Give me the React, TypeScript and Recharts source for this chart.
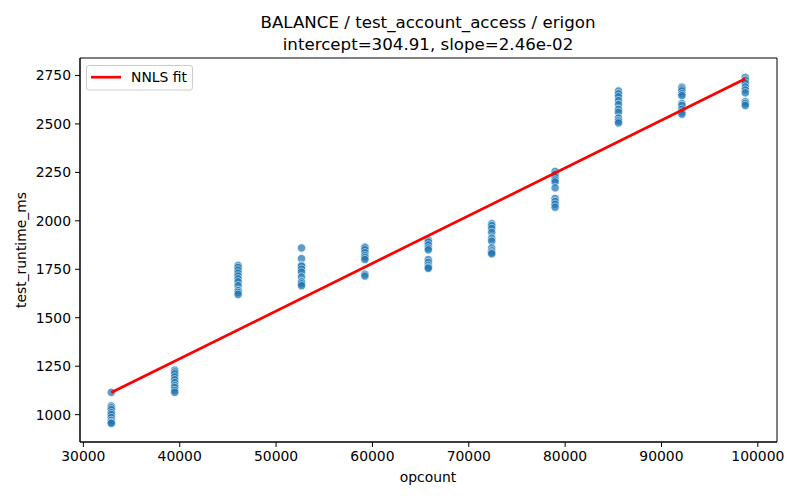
import React from "react";
import {
  ScatterChart,
  Scatter,
  XAxis,
  YAxis,
  ReferenceArea,
} from "recharts";

document.body.style.margin = "0";

// opcount values of each run group
const opcounts = [32900, 39480, 46060, 52640, 59220, 65800, 72380, 78960, 85540, 92120, 98700];

// test_runtime_ms per group
const ms32900 = [1115, 1045, 1035, 1025, 1010, 1000, 985, 970, 960, 955];
const ms39480 = [1230, 1220, 1210, 1195, 1180, 1165, 1150, 1140, 1125, 1115];
const ms46060 = [1770, 1760, 1745, 1730, 1715, 1700, 1685, 1665, 1640, 1630, 1620];
const ms52640 = [1860, 1805, 1770, 1765, 1750, 1735, 1710, 1685, 1675, 1665];
const ms59220 = [1865, 1860, 1850, 1835, 1820, 1810, 1800, 1725, 1715];
const ms65800 = [1900, 1890, 1875, 1860, 1850, 1800, 1785, 1770, 1760, 1755];
const ms72380 = [1985, 1975, 1960, 1940, 1910, 1895, 1860, 1845, 1835, 1830];
const ms78960 = [2255, 2240, 2225, 2210, 2200, 2170, 2115, 2100, 2085, 2070];
const ms85540 = [2670, 2655, 2640, 2620, 2600, 2575, 2560, 2530, 2515, 2505];
const ms92120 = [2690, 2680, 2670, 2655, 2645, 2605, 2595, 2575, 2560, 2550];
const ms98700 = [2740, 2725, 2710, 2690, 2675, 2660, 2615, 2605, 2595];

// NNLS fit endpoints (intercept=304.91, slope=2.46e-02)
const fitX = [32900, 98700];
const fitY = [1114.25, 2732.93];

const xTicks = [30000, 40000, 50000, 60000, 70000, 80000, 90000, 100000];
const yTicks = [1000, 1250, 1500, 1750, 2000, 2250, 2500, 2750];
const xDomain = [29650, 101990];
const yDomain = [859, 2840];

const groups = [ms32900, ms39480, ms46060, ms52640, ms59220, ms65800, ms72380, ms78960, ms85540, ms92120, ms98700];
const points = groups.flatMap((g, i) => g.map((y) => ({ x: opcounts[i], y })));
const fitData = fitX.map((x, i) => ({ x, y: fitY[i] }));

const FONT = "'DejaVu Sans', sans-serif";

const Dot = (props: any) => (
  <circle
    cx={props.cx}
    cy={props.cy}
    r={4.2}
    fill="#1f77b4"
    stroke="#ffffff"
    strokeWidth={0.75}
    opacity={0.72}
  />
);

const NoDot = () => <g />;

export default function App() {
  return (
    <div style={{ position: "relative", width: 800, height: 500, background: "#fff" }}>
      <ScatterChart
        width={800}
        height={500}
        margin={{ top: 58, right: 23, bottom: 18, left: 10 }}
        style={{ position: "absolute", left: 0, top: 0 }}
      >
        <XAxis
          type="number"
          dataKey="x"
          domain={xDomain}
          ticks={xTicks}
          allowDataOverflow
          height={40}
          tickSize={5}
          tickMargin={4}
          stroke="#000"
          tick={{ fill: "#000", fontSize: 13.9, fontFamily: FONT }}
          label={{
            content: () => (
              <text x={428} y={482} textAnchor="middle" fontSize={13.9} fontFamily={FONT} fill="#000">
                opcount
              </text>
            ),
          }}
        />
        <YAxis
          type="number"
          dataKey="y"
          domain={yDomain}
          ticks={yTicks}
          allowDataOverflow
          width={70}
          tickSize={5}
          tickMargin={4}
          stroke="#000"
          tick={{ fill: "#000", fontSize: 13.9, fontFamily: FONT }}
          label={{
            content: () => (
              <text
                x={26}
                y={250}
                transform="rotate(-90 26 250)"
                textAnchor="middle"
                fontSize={13.9}
                fontFamily={FONT}
                fill="#000"
              >
                test_runtime_ms
              </text>
            ),
          }}
        />
        <ReferenceArea
          x1={xDomain[0]}
          x2={xDomain[1]}
          y1={yDomain[0]}
          y2={yDomain[1]}
          fill="none"
          stroke="#000"
          strokeWidth={1}
          ifOverflow="visible"
        />
        <Scatter data={points} shape={Dot} isAnimationActive={false} />
        <Scatter
          data={fitData}
          name="NNLS fit"
          shape={NoDot}
          line={{ stroke: "#ff0000", strokeWidth: 2.7 }}
          lineType="joint"
          isAnimationActive={false}
        />
      </ScatterChart>
      <svg width={800} height={100} style={{ position: "absolute", left: 0, top: 0, pointerEvents: "none" }}>
        <text x={428} y={28} textAnchor="middle" fontSize={16.67} fontFamily={FONT} fill="#000">
          BALANCE / test_account_access / erigon
        </text>
        <text x={428} y={49.5} textAnchor="middle" fontSize={16.67} fontFamily={FONT} fill="#000">
          intercept=304.91, slope=2.46e-02
        </text>
        <g transform="translate(86 65)">
          <rect x={0.5} y={0.5} width={106} height={24.5} rx={2.5} fill="#fff" fillOpacity={0.8} stroke="#cccccc" />
          <line x1={5} y1={12.2} x2={35} y2={12.2} stroke="#ff0000" strokeWidth={2.7} />
          <text x={45} y={17} fontSize={13.9} fontFamily={FONT} fill="#000">
            NNLS fit
          </text>
        </g>
      </svg>
    </div>
  );
}
